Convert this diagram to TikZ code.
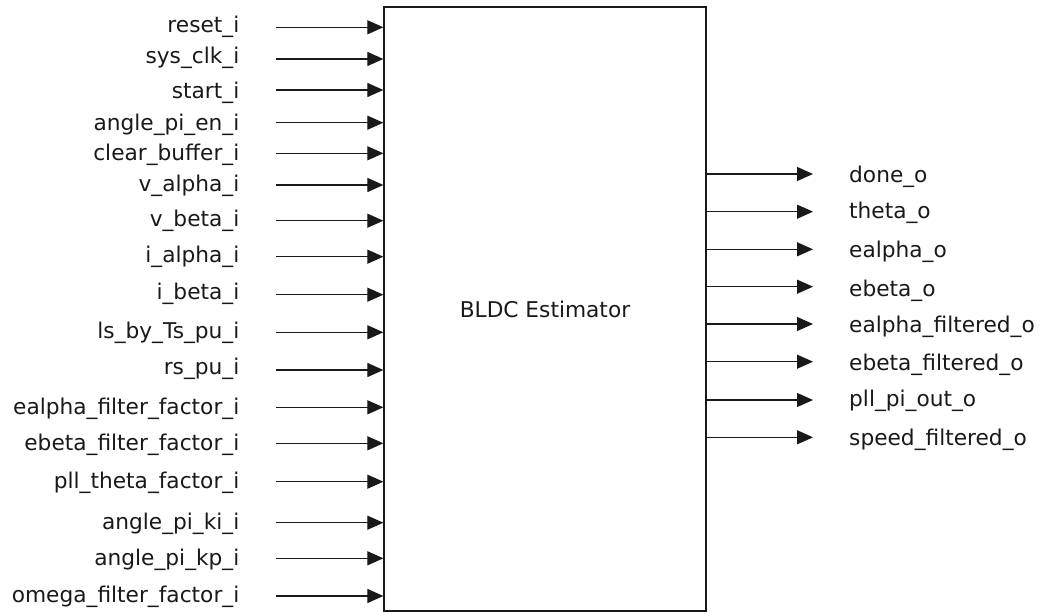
\documentclass[tikz,border=0pt]{standalone}
\usepackage{fontspec}
\setmainfont{DejaVu Sans}
\usetikzlibrary{arrows.meta}
\begin{document}
\begin{tikzpicture}[x=1pt,y=-1pt,
  sig/.style={line width=1.2pt, draw=black!90, -{Triangle[length=16pt,width=14pt]}},
  lbl/.style={inner sep=0pt, text=black!90, font=\fontsize{21.7}{25}\selectfont}]
\useasboundingbox (0,0) rectangle (1040,612);
\node[draw=black!90, line width=1.3pt, minimum width=322pt, minimum height=604pt, lbl] (box) at (545,309) {BLDC Estimator};
\foreach \n/\t/\ay/\by in {
  1/reset\_i/27.3/32.3,
  2/sys\_clk\_i/59/64,
  3/start\_i/90/99,
  4/angle\_pi\_en\_i/122.7/130.7,
  5/clear\_buffer\_i/153.3/161,
  6/v\_alpha\_i/185/191.7,
  7/v\_beta\_i/220.7/226,
  8/i\_alpha\_i/256.7/262.7,
  9/i\_beta\_i/294.7/299,
  10/ls\_by\_Ts\_pu\_i/332.3/338.3,
  11/rs\_pu\_i/370/374,
  12/ealpha\_filter\_factor\_i/407.3/414,
  13/ebeta\_filter\_factor\_i/443.3/450.7,
  14/pll\_theta\_factor\_i/481.7/488.3,
  15/angle\_pi\_ki\_i/522.7/529.3,
  16/angle\_pi\_kp\_i/558.3/565.7,
  17/omega\_filter\_factor\_i/596/602.7}{
  \coordinate (is\n) at (276,\ay);
  \draw[sig] (is\n) -- (is\n -| box.west);
  \node[lbl, anchor=base east] (il\n) at (239.5,\by) {\t};
}
\foreach \n/\t/\ay/\by in {
  1/done\_o/174/182.7,
  2/theta\_o/211.7/218.3,
  3/ealpha\_o/249.3/257.3,
  4/ebeta\_o/286.7/296,
  5/ealpha\_filtered\_o/324/332.7,
  6/ebeta\_filtered\_o/361.7/370,
  7/pll\_pi\_out\_o/400/406,
  8/speed\_filtered\_o/437.3/445.7}{
  \coordinate (oe\n) at (813,\ay);
  \draw[sig] (oe\n -| box.east) -- (oe\n);
  \node[lbl, anchor=base west] (ol\n) at (849,\by) {\t};
}
\end{tikzpicture}
\end{document}
